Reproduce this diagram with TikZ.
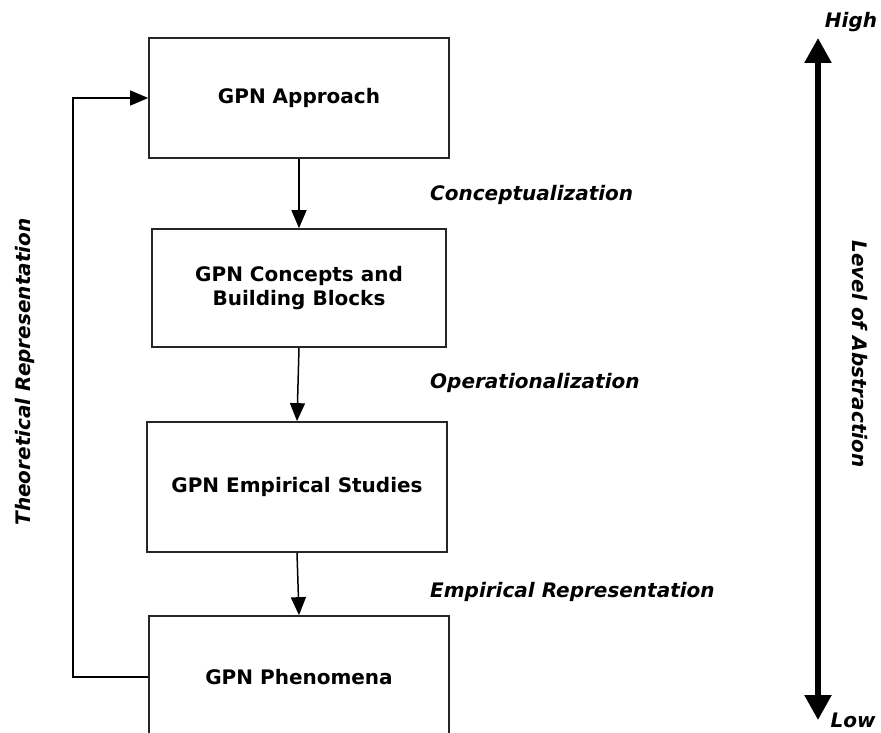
\documentclass[tikz,border=0pt]{standalone}
\usepackage{fontspec}
\setmainfont{DejaVu Sans}
\usetikzlibrary{arrows.meta,calc}
\begin{document}
\begin{tikzpicture}[x=1pt,y=-1pt,
  stage/.style={draw=black!85,line width=1.7pt,fill=white,align=center,
    font=\fontsize{20}{24}\selectfont\bfseries,inner sep=0pt},
  flow/.style={line width=1.5pt,-{Triangle[length=18pt,width=15pt]}},
  steplabel/.style={font=\fontsize{20}{24}\selectfont\bfseries\itshape,anchor=west,inner sep=0pt},
  sidelabel/.style={font=\fontsize{20}{24}\selectfont\bfseries\itshape,inner sep=0pt}]
  \useasboundingbox (0,0) rectangle (881,733);
  \clip (0,0) rectangle (881,733);

  % the four stages
  \node[stage,minimum width=300pt,minimum height=120pt] (approach) at (299,98) {GPN Approach};
  \node[stage,minimum width=294pt,minimum height=118pt] (concepts) at (299,288) {GPN Concepts and\\Building Blocks};
  \node[stage,minimum width=300pt,minimum height=130pt] (empirical) at (297,487) {GPN Empirical Studies};
  \node[stage,minimum width=300pt,minimum height=134pt] (phenomena) at (299,683) {};
  \node[font=\fontsize{20}{24}\selectfont\bfseries] (phentext) at (299,677) {GPN Phenomena};

  % downward steps
  \draw[flow] (approach.south) -- (concepts.north);
  \draw[flow] (concepts.south) -- (empirical.north);
  \draw[flow] (empirical.south) -- (phenomena.north);

  \node[steplabel] (lconc) at (430,195) {Conceptualization};
  \node[steplabel] (loper) at (430,383) {Operationalization};
  \node[steplabel] (lemp) at (430,592) {Empirical Representation};

  % feedback loop
  \coordinate (fb1) at (73,677);
  \coordinate (fb2) at (73,98);
  \draw[line width=1.5pt,-{Triangle[length=18pt,width=15pt]}]
    (phenomena.west |- fb1) -- (fb1) -- (fb2) -- (approach.west);
  \node[sidelabel,rotate=90] (ltheo) at (25,372) {Theoretical Representation};

  % abstraction scale
  \coordinate (top) at (818,38);
  \coordinate (bot) at (818,720);
  \draw[line width=5.5pt,{Triangle[length=25pt,width=26pt]}-{Triangle[length=25pt,width=26pt]}] (bot) -- (top);
  \node[sidelabel,rotate=-90] (labs) at (860,354) {Level of Abstraction};
  \node[sidelabel] (lhigh) at (851,22) {High};
  \node[sidelabel] (llow) at (853,720) {Low};
\end{tikzpicture}
\end{document}
